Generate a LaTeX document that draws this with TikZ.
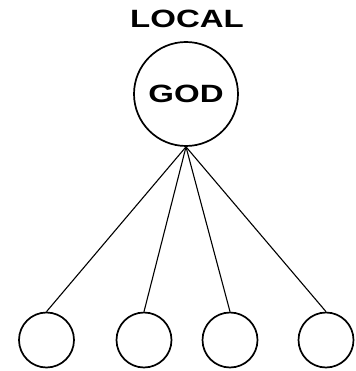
\documentclass[tikz,border=0pt]{standalone}
\usepackage{fontspec}
\newfontfamily\labelfont[FakeStretch=1.32]{Liberation Sans}
\usetikzlibrary{positioning}

\begin{document}
\begin{tikzpicture}[x=1pt,y=-1pt,godnode/.style={draw=black,circle,line width=1.7pt,minimum size=104pt,inner sep=0pt,font=\labelfont\fontsize{25}{25}\bfseries\selectfont},leaf/.style={draw=black,circle,line width=1.7pt,minimum size=55pt,inner sep=0pt},link/.style={line width=1.1pt,draw=black}]
\useasboundingbox (0,0) rectangle (355,371);
\node[font=\labelfont\fontsize{25}{25}\bfseries\selectfont] (title) at (187,19) {LOCAL};
\node[godnode] (god) at (186,94) {GOD};
\node[leaf] (leaf1) at (46.5,340) {};
\node[leaf] (leaf2) at (144,340) {};
\node[leaf] (leaf3) at (230,340) {};
\node[leaf] (leaf4) at (326,340) {};
\draw[link] (god.south) -- (leaf1.north);
\draw[link] (god.south) -- (leaf2.north);
\draw[link] (god.south) -- (leaf3.north);
\draw[link] (god.south) -- (leaf4.north);
\end{tikzpicture}
\end{document}
